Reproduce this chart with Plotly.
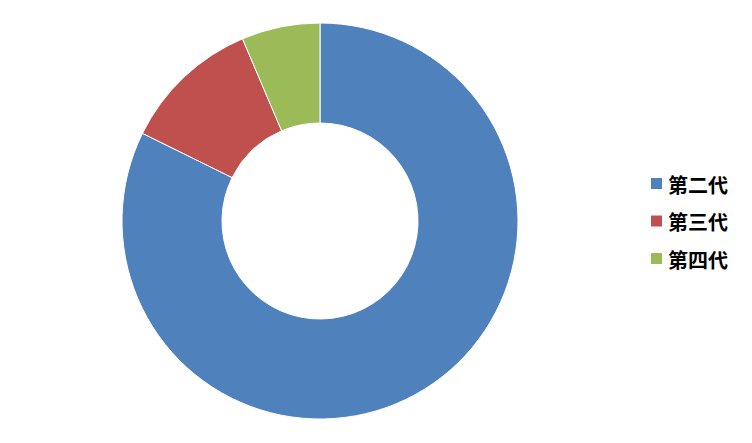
import plotly.graph_objects as go

categories = ["第二代", "第三代", "第四代"]
values = [82.3, 11.3, 6.4]
colors = ["#4F81BD", "#C0504D", "#9BBB59"]

W, H = 752, 443
OFF = 8  # page body margin offset

def px_x(x):
    return (x - OFF) / W

def px_y(y):
    return 1 - (y - OFF) / H

fig = go.Figure(go.Pie(
    labels=categories, values=values, hole=0.495, sort=False,
    direction="clockwise", rotation=0,
    marker=dict(colors=colors, line=dict(color="white", width=1)),
    textinfo="none", hoverinfo="label+percent", showlegend=False,
    domain=dict(x=[px_x(320 - 198), px_x(320 + 198)], y=[px_y(419), px_y(23)]),
))

# manual legend
y0, dy = 183.5, 37.5
for i, (c, col) in enumerate(zip(categories, colors)):
    yc = y0 + i * dy
    fig.add_shape(type="rect", xref="paper", yref="paper",
                  x0=px_x(651), x1=px_x(662), y0=px_y(yc + 5.5), y1=px_y(yc - 5.5),
                  fillcolor=col, line=dict(width=0))
    fig.add_annotation(x=px_x(666), y=px_y(yc + 1), xref="paper", yref="paper",
                       text="<b>%s</b>" % c, showarrow=False, xanchor="left", yanchor="middle",
                       font=dict(family="Noto Sans CJK SC", size=20, color="black"))

fig.update_layout(width=W, height=H, margin=dict(l=0, r=0, t=0, b=0),
                  paper_bgcolor="white", plot_bgcolor="white")
fig.write_html("out.html")
